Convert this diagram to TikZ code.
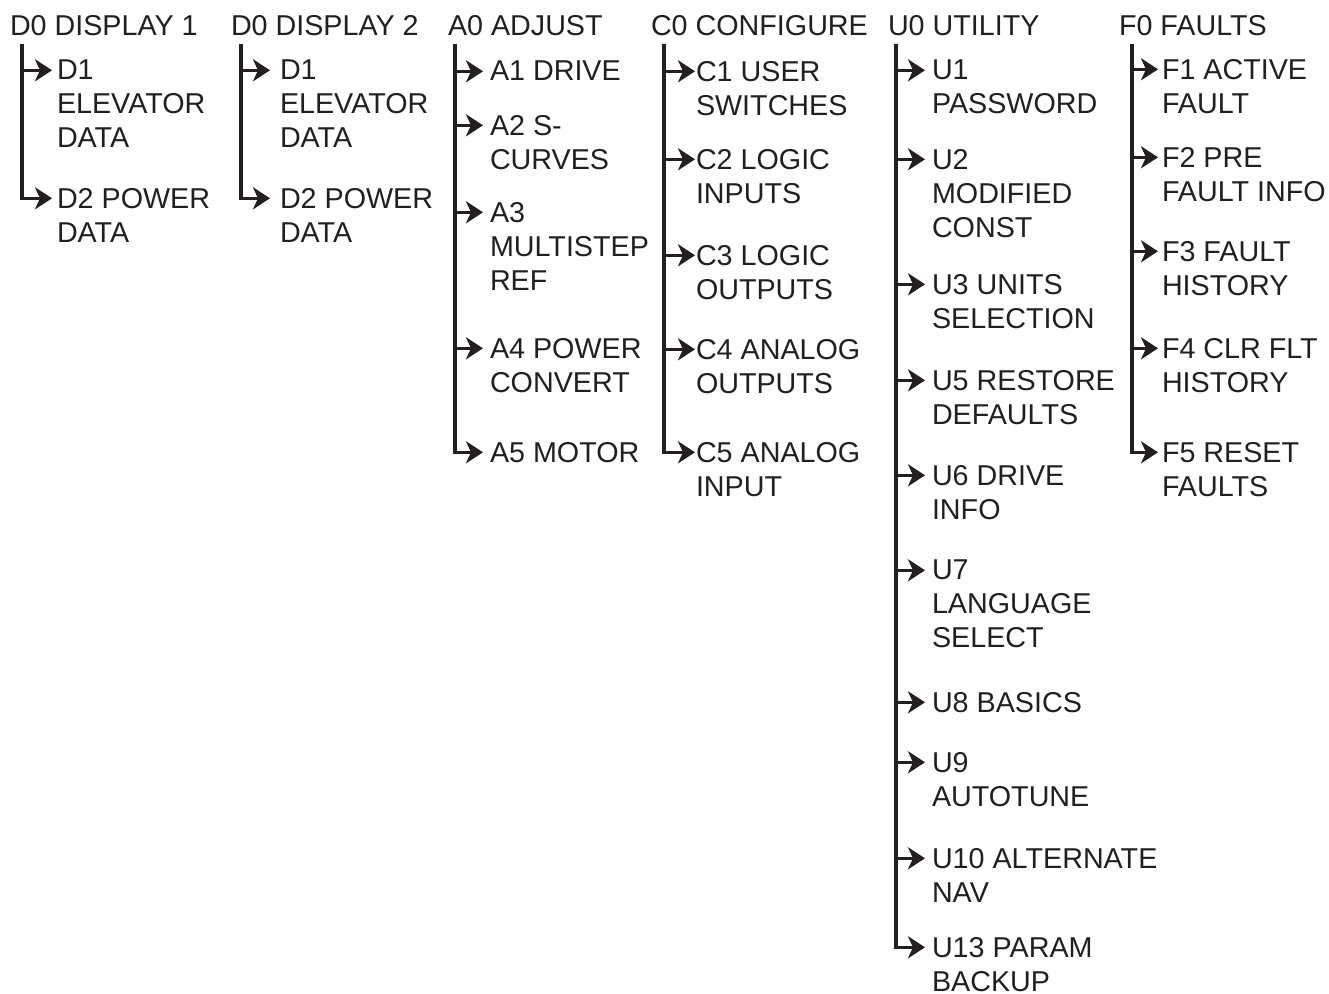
\documentclass[tikz,border=0pt]{standalone}
\usepackage{fontspec}
\setmainfont{Liberation Sans}
\usetikzlibrary{arrows.meta,calc}
\definecolor{ink}{RGB}{35,31,32}
\begin{document}
\begin{tikzpicture}[x=1pt,y=-1pt,
  lbl/.style={inner sep=0pt, outer sep=0pt, align=left, text=ink, font=\fontsize{28.7}{34}\selectfont},
  hdr/.style={lbl, anchor=base west},
  itm/.style={lbl, anchor=north west},
  trunkline/.style={line width=3.3pt, draw=ink},
  arr/.style={trunkline, -{Stealth[length=17pt 0 0,width=22pt 0 0,inset=5pt 0]}}]
\useasboundingbox (0,0) rectangle (1329,993);

% ---------- D0 DISPLAY 1 ----------
\node[hdr] (Dah) at (10,35) {D0 DISPLAY 1};
\node[itm] (Da1) at (57,60) {D1\\ELEVATOR\\DATA};
\node[itm] (Da2) at (57,188) {D2 POWER\\DATA};
\coordinate (Dat) at (22,44);
\coordinate (Da1t) at ($(Da1.north west)+(-5,10.3)$);
\coordinate (Da2t) at ($(Da2.north west)+(-5,10.3)$);
\draw[arr] (Dat |- Da1t) -- (Da1t);
\draw[arr] (Dat) |- (Da2t);

% ---------- D0 DISPLAY 2 ----------
\node[hdr] (Dbh) at (231,35) {D0 DISPLAY 2};
\node[itm] (Db1) at (280,60) {D1\\ELEVATOR\\DATA};
\node[itm] (Db2) at (280,188) {D2 POWER\\DATA};
\coordinate (Dbt) at (241,44);
\coordinate (Db1t) at ($(Db1.north west)+(-10,10.3)$);
\coordinate (Db2t) at ($(Db2.north west)+(-10,10.3)$);
\draw[arr] (Dbt |- Db1t) -- (Db1t);
\draw[arr] (Dbt) |- (Db2t);

% ---------- A0 ADJUST ----------
\node[hdr] (Ah) at (448,35) {A0 ADJUST};
\node[itm] (A1) at (490,61) {A1 DRIVE};
\node[itm] (A2) at (490,115) {A2 S-\\CURVES};
\node[itm] (A3) at (490,202) {A3\\MULTISTEP\\REF};
\node[itm] (A4) at (490,338) {A4 POWER\\CONVERT};
\node[itm] (A5) at (490,442) {A5 MOTOR};
\coordinate (At) at (455,44);
\foreach \k in {1,...,5}{\coordinate (A\k t) at ($(A\k.north west)+(-7,10.3)$);}
\foreach \k in {1,...,4}{\draw[arr] (At |- A\k t) -- (A\k t);}
\draw[arr] (At) |- (A5t);

% ---------- C0 CONFIGURE ----------
\node[hdr] (Ch) at (651,35) {C0 CONFIGURE};
\node[itm] (C1) at (696,61) {C1 USER\\SWITCHES};
\node[itm] (C2) at (696,149) {C2 LOGIC\\INPUTS};
\node[itm] (C3) at (696,245) {C3 LOGIC\\OUTPUTS};
\node[itm] (C4) at (696,339) {C4 ANALOG\\OUTPUTS};
\node[itm] (C5) at (696,442) {C5 ANALOG\\INPUT};
\coordinate (Ct) at (664,44);
\foreach \k in {1,...,5}{\coordinate (C\k t) at ($(C\k.north west)+(-1,10.3)$);}
\foreach \k in {1,...,4}{\draw[arr] (Ct |- C\k t) -- (C\k t);}
\draw[arr] (Ct) |- (C5t);

% ---------- U0 UTILITY ----------
\node[hdr] (Uh) at (888,35) {U0 UTILITY};
\node[itm] (U1) at (932,60) {U1\\PASSWORD};
\node[itm] (U2) at (932,149) {U2\\MODIFIED\\CONST};
\node[itm] (U3) at (932,274) {U3 UNITS\\SELECTION};
\node[itm] (U4) at (932,370) {U5 RESTORE\\DEFAULTS};
\node[itm] (U5) at (932,465) {U6 DRIVE\\INFO};
\node[itm] (U6) at (932,560) {U7\\LANGUAGE\\SELECT};
\node[itm] (U7) at (932,692) {U8 BASICS};
\node[itm] (U8) at (932,752) {U9\\AUTOTUNE};
\node[itm] (U9) at (932,848) {U10 ALTERNATE\\NAV};
\node[itm] (U10) at (932,937) {U13 PARAM\\BACKUP};
\coordinate (Ut) at (896,44);
\foreach \k in {1,...,10}{\coordinate (U\k t) at ($(U\k.north west)+(-7,10.3)$);}
\foreach \k in {1,...,9}{\draw[arr] (Ut |- U\k t) -- (U\k t);}
\draw[arr] (Ut) |- (U10t);

% ---------- F0 FAULTS ----------
\node[hdr] (Fh) at (1119,35) {F0 FAULTS};
\node[itm] (F1) at (1162,59) {F1 ACTIVE\\FAULT};
\node[itm] (F2) at (1162,147) {F2 PRE\\FAULT INFO};
\node[itm] (F3) at (1162,241) {F3 FAULT\\HISTORY};
\node[itm] (F4) at (1162,338) {F4 CLR FLT\\HISTORY};
\node[itm] (F5) at (1162,442) {F5 RESET\\FAULTS};
\coordinate (Ft) at (1132,44);
\foreach \k in {1,...,5}{\coordinate (F\k t) at ($(F\k.north west)+(-4,10.3)$);}
\foreach \k in {1,...,4}{\draw[arr] (Ft |- F\k t) -- (F\k t);}
\draw[arr] (Ft) |- (F5t);
\end{tikzpicture}
\end{document}
